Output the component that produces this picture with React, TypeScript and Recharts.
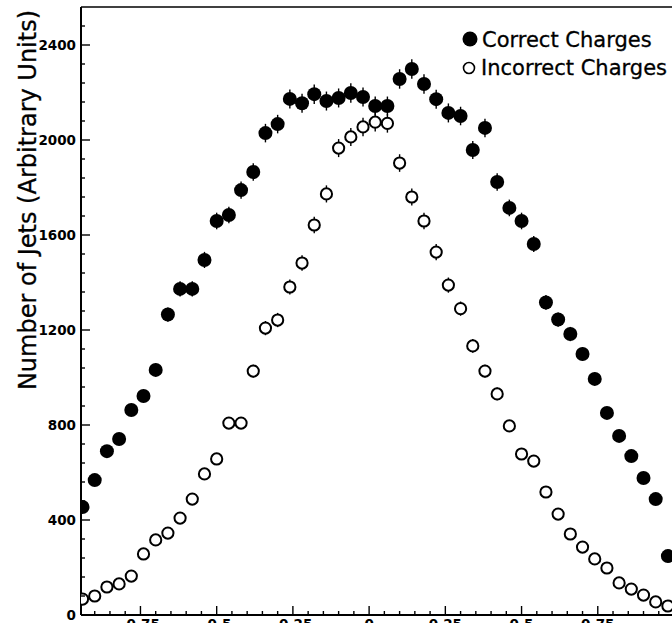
import React from 'react';
import { ScatterChart, Scatter, XAxis, YAxis, ErrorBar, ReferenceLine, Legend } from 'recharts';

// bin centres (jet charge), 0.04 wide bins
const binCenters = [
  -0.94, -0.9, -0.86, -0.82, -0.78, -0.74, -0.7, -0.66, -0.62, -0.58,
  -0.54, -0.5, -0.46, -0.42, -0.38, -0.34, -0.3, -0.26, -0.22, -0.18,
  -0.14, -0.1, -0.06, -0.02, 0.02, 0.06, 0.1, 0.14, 0.18, 0.22,
  0.26, 0.3, 0.34, 0.38, 0.42, 0.46, 0.5, 0.54, 0.58, 0.62,
  0.66, 0.7, 0.74, 0.78, 0.82, 0.86, 0.9, 0.94, 0.98,
];

const correctCounts = [
  455, 568, 690, 741, 863, 922, 1032, 1265, 1373, 1373,
  1495, 1659, 1684, 1789, 1865, 2029, 2067, 2173, 2155, 2193,
  2164, 2177, 2198, 2181, 2143, 2143, 2257, 2299, 2236, 2172,
  2114, 2101, 1958, 2051, 1823, 1714, 1659, 1562, 1316, 1244,
  1183, 1099, 994, 851, 754, 669, 577, 488, 248,
];
const correctErrors = [
  18, 20, 23, 23, 25, 26, 27, 30, 32, 32,
  34, 35, 35, 36, 37, 39, 39, 40, 40, 41,
  40, 40, 41, 40, 40, 40, 41, 41, 41, 40,
  40, 39, 38, 39, 37, 35, 35, 34, 31, 30,
  30, 28, 27, 25, 23, 22, 20, 19, 13,
];

const incorrectCounts = [
  67, 80, 118, 131, 164, 257, 316, 345, 408, 488,
  594, 657, 808, 808, 1027, 1208, 1242, 1381, 1482, 1642,
  1773, 1966, 2013, 2055, 2075, 2070, 1903, 1760, 1659, 1528,
  1389, 1290, 1133, 1027, 931, 796, 678, 648, 518, 425,
  341, 286, 236, 198, 135, 109, 84, 55, 38,
];
const incorrectErrors = [
  7, 8, 9, 10, 11, 14, 16, 16, 17, 19,
  21, 22, 24, 24, 27, 30, 30, 32, 33, 35,
  36, 38, 38, 39, 39, 39, 37, 36, 35, 34,
  32, 30, 29, 27, 27, 24, 23, 22, 20, 18,
  16, 15, 13, 12, 10, 9, 8, 6, 5,
];

const xTicks = [
  -0.9, -0.85, -0.8, -0.75, -0.7, -0.65, -0.6, -0.55, -0.5, -0.45, -0.4, -0.35, -0.3,
  -0.25, -0.2, -0.15, -0.1, -0.05, 0, 0.05, 0.1, 0.15, 0.2, 0.25, 0.3, 0.35, 0.4,
  0.45, 0.5, 0.55, 0.6, 0.65, 0.7, 0.75, 0.8, 0.85, 0.9, 0.95,
];
const xMajorTicks = [-0.75, -0.5, -0.25, 0, 0.25, 0.5, 0.75];

const yTicks = [
  0, 80, 160, 240, 320, 400, 480, 560, 640, 720, 800, 880, 960, 1040, 1120, 1200,
  1280, 1360, 1440, 1520, 1600, 1680, 1760, 1840, 1920, 2000, 2080, 2160, 2240,
  2320, 2400, 2480,
];
const yMajorTicks = [0, 400, 800, 1200, 1600, 2000, 2400];

const correctData = binCenters.map((x, i) => ({ x, y: correctCounts[i], err: correctErrors[i] }));
const incorrectData = binCenters.map((x, i) => ({ x, y: incorrectCounts[i], err: incorrectErrors[i] }));

const FONT = '"DejaVu Sans", Verdana, sans-serif';

const isIn = (list: number[], v: number) => list.some((m) => Math.abs(m - v) < 1e-6);

const XTick = (props: any) => {
  const { x, y, payload } = props;
  const v = payload.value;
  const major = isIn(xMajorTicks, v);
  return (
    <g>
      <line x1={x} x2={x} y1={y} y2={y - (major ? 9 : 4)} stroke="#000" strokeWidth={1.4} />
      {major && (
        <text x={x} y={y + 14} textAnchor="middle" fontFamily={FONT} fontWeight="bold" fontSize={13.5} fill="#000">
          {String(v)}
        </text>
      )}
    </g>
  );
};

const YTick = (props: any) => {
  const { x, y, payload } = props;
  const v = payload.value;
  const major = isIn(yMajorTicks, v);
  return (
    <g>
      {v !== 0 && (
        <line x1={x} x2={x + (major ? 9 : 4)} y1={y} y2={y} stroke="#000" strokeWidth={1.4} />
      )}
      {major && (
        <text x={x - 5} y={y + 5} textAnchor="end" fontFamily={FONT} fontWeight="bold" fontSize={13.5} fill="#000">
          {v}
        </text>
      )}
    </g>
  );
};

const YTitle = () => (
  <text
    x={36}
    y={200}
    transform="rotate(-90, 36, 200)"
    textAnchor="middle"
    fontFamily={FONT}
    fontSize={24}
    fill="#000"
    stroke="#000"
    strokeWidth={0.3}
  >
    Number of Jets (Arbitrary Units)
  </text>
);

const FilledDot = (props: any) => <circle cx={props.cx} cy={props.cy} r={7} fill="#000" />;
const OpenDot = (props: any) => (
  <circle cx={props.cx} cy={props.cy} r={5.6} fill="#fff" stroke="#000" strokeWidth={2} />
);

const renderLegend = () => (
  <svg width={220} height={64}>
    <circle cx={18} cy={17} r={7.5} fill="#000" />
    <text x={30} y={25} fontFamily={FONT} fontSize={21} fill="#000" stroke="#000" strokeWidth={0.3}>
      Correct Charges
    </text>
    <circle cx={17} cy={46} r={5.5} fill="none" stroke="#000" strokeWidth={1.6} />
    <text x={29} y={53} fontFamily={FONT} fontSize={21} fill="#000" stroke="#000" strokeWidth={0.3}>
      Incorrect Charges
    </text>
  </svg>
);

export default function App() {
  return (
    <div style={{ position: 'absolute', left: 0, top: 0, width: 672, height: 623, overflow: 'hidden', background: '#fff' }}>
      <ScatterChart width={676} height={650} margin={{ top: 7, right: 2, bottom: 0, left: 0 }}>
        <XAxis
          type="number"
          dataKey="x"
          domain={[-0.945, 1.0]}
          allowDataOverflow
          ticks={xTicks}
          interval={0}
          tick={<XTick />}
          tickLine={false}
          tickSize={0}
          tickMargin={0}
          height={35}
          axisLine={{ stroke: '#000', strokeWidth: 2 }}
        />
        <YAxis
          type="number"
          dataKey="y"
          domain={[0, 2560]}
          allowDataOverflow
          ticks={yTicks}
          interval={0}
          tick={<YTick />}
          tickLine={false}
          tickSize={0}
          tickMargin={0}
          width={81}
          axisLine={{ stroke: '#000', strokeWidth: 2 }}
          label={<YTitle />}
        />
        <ReferenceLine y={2560} stroke="#000" strokeWidth={1.5} />
        <Legend
          layout="horizontal"
          verticalAlign="middle"
          align="center"
          content={renderLegend}
          wrapperStyle={{ position: 'absolute', left: 452, top: 22, width: 220, height: 64 }}
        />
        <Scatter name="Correct Charges" data={correctData} shape={<FilledDot />} isAnimationActive={false}>
          <ErrorBar dataKey="err" direction="y" width={0} stroke="#000" strokeWidth={1.4} isAnimationActive={false} />
        </Scatter>
        <Scatter name="Incorrect Charges" data={incorrectData} shape={<OpenDot />} isAnimationActive={false}>
          <ErrorBar dataKey="err" direction="y" width={0} stroke="#000" strokeWidth={1.4} isAnimationActive={false} />
        </Scatter>
      </ScatterChart>
    </div>
  );
}
